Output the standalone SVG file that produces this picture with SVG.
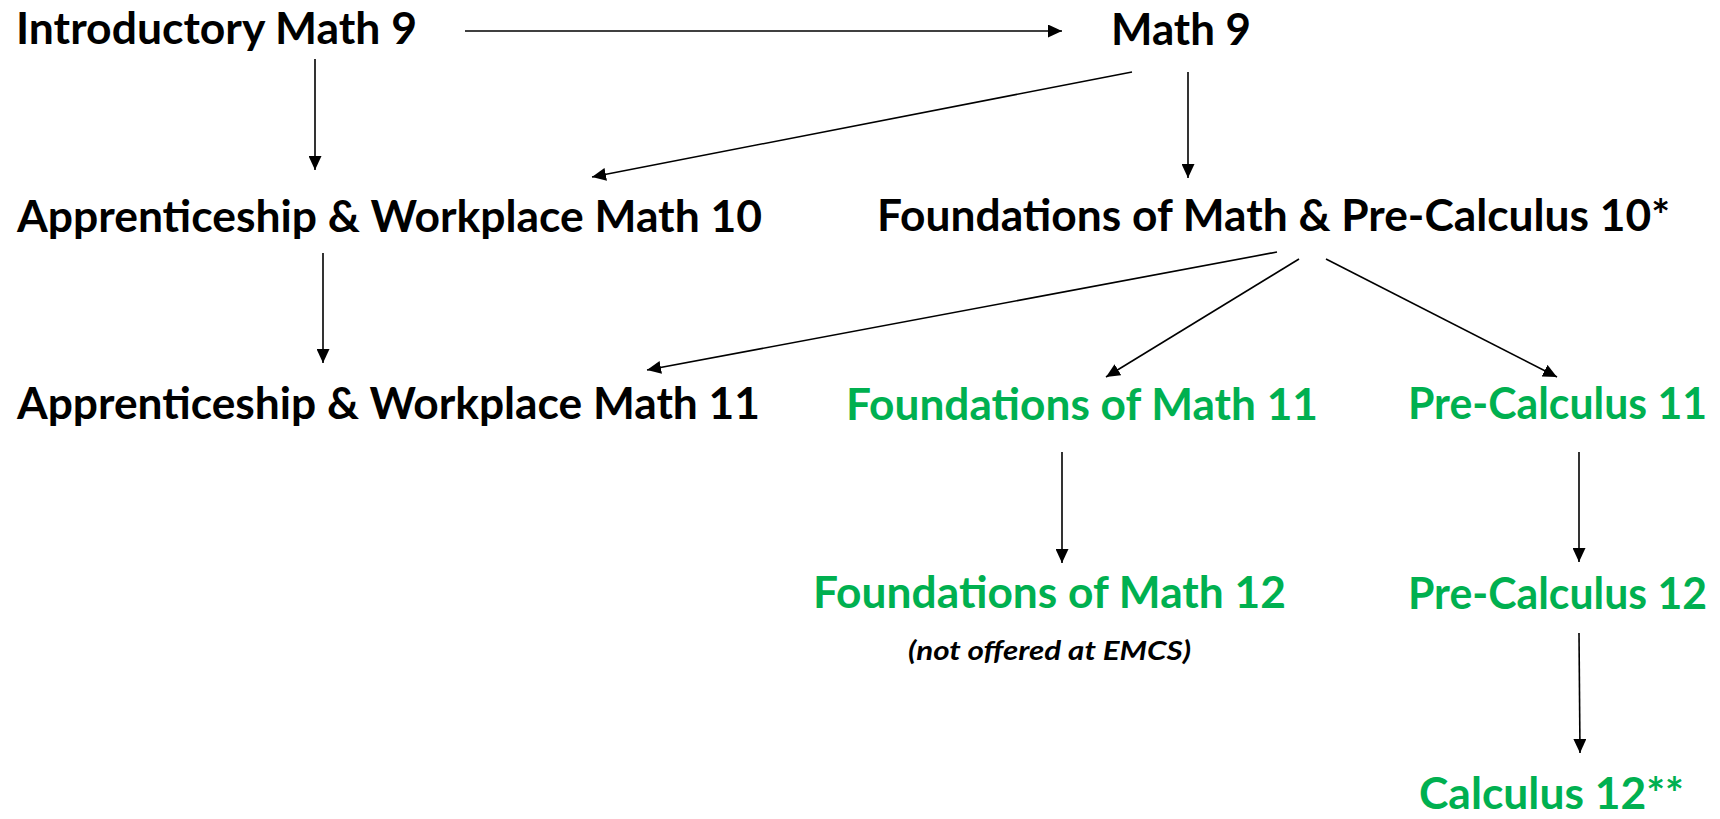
<svg xmlns="http://www.w3.org/2000/svg" width="1720" height="819" viewBox="0 0 1720 819">
<style>
  .t { font-family: Lato, "Open Sans", "Liberation Sans", sans-serif; font-weight: 700; font-size: 43px; }
  .k { fill: #000000; }
  .g { fill: #00B050; }
  .note { font-family: Lato, "Open Sans", "Liberation Sans", sans-serif; font-weight: 700; font-style: italic; font-size: 26px; fill: #000000; }
  .c { stroke: #000000; stroke-width: 1.6; fill: none; marker-end: url(#ah); }
</style>
<defs>
  <marker id="ah" viewBox="0 0 14 13" refX="14" refY="6.5" markerWidth="14" markerHeight="13" markerUnits="userSpaceOnUse" orient="auto">
    <path d="M0,0 L14,6.5 L0,13 Z" fill="#000000"/>
  </marker>
</defs>
<rect width="1720" height="819" fill="#ffffff"/>
<g id="connectors">
  <line class="c" x1="465" y1="31" x2="1062" y2="31"/>
  <line class="c" x1="315" y1="59" x2="315" y2="170"/>
  <line class="c" x1="1132" y1="72" x2="592" y2="177"/>
  <line class="c" x1="1188" y1="72" x2="1188" y2="178"/>
  <line class="c" x1="323" y1="253" x2="323" y2="363"/>
  <line class="c" x1="1277" y1="252" x2="647" y2="370"/>
  <line class="c" x1="1299" y1="259" x2="1106" y2="377"/>
  <line class="c" x1="1326" y1="259" x2="1557" y2="377"/>
  <line class="c" x1="1062" y1="452" x2="1062" y2="563"/>
  <line class="c" x1="1579" y1="452" x2="1579" y2="562"/>
  <line class="c" x1="1579" y1="633" x2="1580" y2="753"/>
</g>
<g id="intro-math-9"><text class="t k" x="16" y="44" textLength="401" lengthAdjust="spacingAndGlyphs">Introductory Math 9</text></g>
<g id="math-9"><text class="t k" x="1111" y="45" textLength="140" lengthAdjust="spacingAndGlyphs">Math 9</text></g>
<g id="aw-math-10"><text class="t k" x="17" y="232" textLength="745" lengthAdjust="spacingAndGlyphs">Apprenticeship &amp; Workplace Math 10</text></g>
<g id="fmpc-10"><text class="t k" x="877" y="231" textLength="793" lengthAdjust="spacingAndGlyphs">Foundations of Math &amp; Pre-Calculus 10*</text></g>
<g id="aw-math-11"><text class="t k" x="17" y="419" textLength="743" lengthAdjust="spacingAndGlyphs">Apprenticeship &amp; Workplace Math 11</text></g>
<g id="fm-11"><text class="t g" x="846" y="420" textLength="472" lengthAdjust="spacingAndGlyphs">Foundations of Math 11</text></g>
<g id="pc-11"><text class="t g" x="1408" y="419" textLength="299" lengthAdjust="spacingAndGlyphs">Pre-Calculus 11</text></g>
<g id="fm-12">
  <text class="t g" x="813" y="608" textLength="473" lengthAdjust="spacingAndGlyphs">Foundations of Math 12</text>
  <text class="note" x="908" y="660" textLength="283" lengthAdjust="spacingAndGlyphs">(not offered at EMCS)</text>
</g>
<g id="pc-12"><text class="t g" x="1408" y="609" textLength="299" lengthAdjust="spacingAndGlyphs">Pre-Calculus 12</text></g>
<g id="calc-12"><text class="t g" x="1419" y="809" textLength="265" lengthAdjust="spacingAndGlyphs">Calculus 12**</text></g>
</svg>
